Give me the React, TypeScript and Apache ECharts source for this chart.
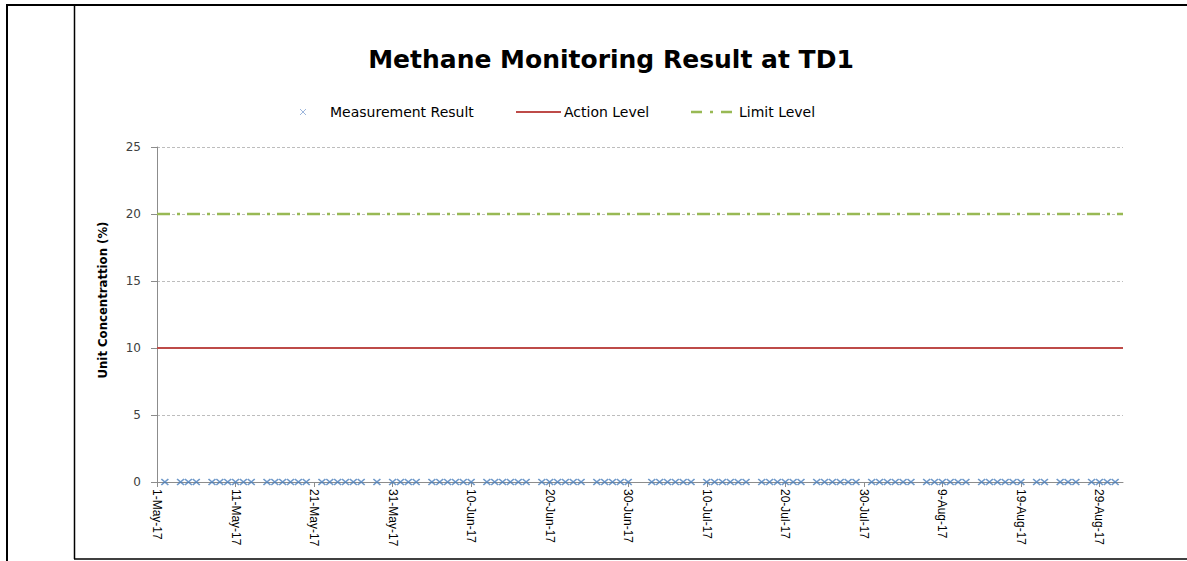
import React, { useEffect, useRef } from "react";
import * as echarts from "echarts";

const chartTitle = "Methane Monitoring Result at TD1";
const yAxisName = "Unit Concentrattion (%)";
const seriesNames = ["Measurement Result", "Action Level", "Limit Level"];

const measurementDates = [
  "2017-05-02", "2017-05-04", "2017-05-05", "2017-05-06",
  "2017-05-08", "2017-05-09", "2017-05-10", "2017-05-11", "2017-05-12", "2017-05-13",
  "2017-05-15", "2017-05-16", "2017-05-17", "2017-05-18", "2017-05-19", "2017-05-20",
  "2017-05-22", "2017-05-23", "2017-05-24", "2017-05-25", "2017-05-26", "2017-05-27",
  "2017-05-29", "2017-05-31", "2017-06-01", "2017-06-02", "2017-06-03",
  "2017-06-05", "2017-06-06", "2017-06-07", "2017-06-08", "2017-06-09", "2017-06-10",
  "2017-06-12", "2017-06-13", "2017-06-14", "2017-06-15", "2017-06-16", "2017-06-17",
  "2017-06-19", "2017-06-20", "2017-06-21", "2017-06-22", "2017-06-23", "2017-06-24",
  "2017-06-26", "2017-06-27", "2017-06-28", "2017-06-29", "2017-06-30",
  "2017-07-03", "2017-07-04", "2017-07-05", "2017-07-06", "2017-07-07", "2017-07-08",
  "2017-07-10", "2017-07-11", "2017-07-12", "2017-07-13", "2017-07-14", "2017-07-15",
  "2017-07-17", "2017-07-18", "2017-07-19", "2017-07-20", "2017-07-21", "2017-07-22",
  "2017-07-24", "2017-07-25", "2017-07-26", "2017-07-27", "2017-07-28", "2017-07-29",
  "2017-07-31", "2017-08-01", "2017-08-02", "2017-08-03", "2017-08-04", "2017-08-05",
  "2017-08-07", "2017-08-08", "2017-08-09", "2017-08-10", "2017-08-11", "2017-08-12",
  "2017-08-14", "2017-08-15", "2017-08-16", "2017-08-17", "2017-08-18", "2017-08-19",
  "2017-08-21", "2017-08-22", "2017-08-24", "2017-08-25", "2017-08-26",
  "2017-08-28", "2017-08-29", "2017-08-30", "2017-08-31",
];
const measurementValues = [
  0, 0, 0, 0,
  0, 0, 0, 0, 0, 0,
  0, 0, 0, 0, 0, 0,
  0, 0, 0, 0, 0, 0,
  0, 0, 0, 0, 0,
  0, 0, 0, 0, 0, 0,
  0, 0, 0, 0, 0, 0,
  0, 0, 0, 0, 0, 0,
  0, 0, 0, 0, 0,
  0, 0, 0, 0, 0, 0,
  0, 0, 0, 0, 0, 0,
  0, 0, 0, 0, 0, 0,
  0, 0, 0, 0, 0, 0,
  0, 0, 0, 0, 0, 0,
  0, 0, 0, 0, 0, 0,
  0, 0, 0, 0, 0, 0,
  0, 0, 0, 0, 0,
  0, 0, 0, 0,
];
const levelDates = ["2017-05-01", "2017-09-01"];
const actionLevel = [10, 10];
const limitLevel = [20, 20];

const axisStart = "2017-05-01";
const axisEnd = "2017-09-01";
const yMin = 0;
const yMax = 25;
const yStep = 5;
const xStepDays = 10;

const MONTHS = ["Jan", "Feb", "Mar", "Apr", "May", "Jun", "Jul", "Aug", "Sep", "Oct", "Nov", "Dec"];
const DAY = 86400000;
const toUTC = (s: string) => {
  const [y, m, d] = s.split("-").map(Number);
  return Date.UTC(y, m - 1, d);
};
const base = toUTC(axisStart);
const dayOf = (s: string) => Math.round((toUTC(s) - base) / DAY);
const fmtDay = (v: number) => {
  const dt = new Date(base + Math.round(v) * DAY);
  return `${dt.getUTCDate()}-${MONTHS[dt.getUTCMonth()]}-${String(dt.getUTCFullYear()).slice(2)}`;
};

const BLUE = "#4A7EBB";
const RED = "#BE4B48";
const GREEN = "#98B954";
const FONT = "'DejaVu Sans', sans-serif";

export default function App() {
  const ref = useRef<HTMLDivElement>(null);
  useEffect(() => {
    if (!ref.current) return;
    const chart = echarts.init(ref.current, undefined, { renderer: "svg" });
    const legendY = 112;
    chart.setOption({
      animation: false,
      backgroundColor: "#fff",
      title: {
        text: chartTitle,
        left: 606,
        top: 42,
        textAlign: "center",
        textStyle: { fontFamily: FONT, fontWeight: "bold", fontSize: 25, color: "#000" },
      },
      grid: { left: 157, right: 64, top: 147, bottom: 79 },
      xAxis: {
        type: "value",
        min: 0,
        max: dayOf(axisEnd),
        interval: xStepDays,
        axisLine: { show: true, onZero: false, lineStyle: { color: "#8C8C8C", width: 1 } },
        axisTick: { show: true, inside: false, length: 5, lineStyle: { color: "#8C8C8C" } },
        splitLine: { show: false },
        axisLabel: {
          rotate: -90,
          margin: 7,
          showMaxLabel: false,
          fontFamily: "'Liberation Sans', Arial, sans-serif",
          fontSize: 12,
          color: "#000",
          formatter: (v: number) => fmtDay(v),
        },
      },
      yAxis: {
        type: "value",
        min: yMin,
        max: yMax,
        interval: yStep,
        axisLine: { show: true, lineStyle: { color: "#8C8C8C", width: 1 } },
        axisTick: { show: true, length: 6, lineStyle: { color: "#8C8C8C" } },
        splitLine: { show: true, lineStyle: { color: "#BDBDBD", type: [3, 2], width: 1 } },
        axisLabel: { margin: 16, fontFamily: FONT, fontSize: 12, color: "#404040" },
      },
      series: [
        {
          name: seriesNames[1],
          type: "line",
          data: levelDates.map((d, i) => [dayOf(d), actionLevel[i]]),
          symbol: "none",
          lineStyle: { color: RED, width: 2 },
          z: 2,
        },
        {
          name: seriesNames[2],
          type: "line",
          data: levelDates.map((d, i) => [dayOf(d), limitLevel[i]]),
          symbol: "none",
          lineStyle: { color: GREEN, width: 2.5, type: [13, 7, 3, 7] },
          z: 2,
        },
        {
          name: seriesNames[0],
          type: "scatter",
          data: measurementDates.map((d, i) => [dayOf(d), measurementValues[i]]),
          symbol: "path://M0 0L10 10M0 10L10 0",
          symbolSize: [7, 6],
          itemStyle: { color: "rgba(0,0,0,0)", borderColor: BLUE, borderWidth: 1.5 },
          z: 3,
        },
      ],
      graphic: [
        { type: "line", shape: { x1: 6, y1: 5, x2: 1187, y2: 5 }, style: { stroke: "#000", lineWidth: 2 } },
        { type: "line", shape: { x1: 7, y1: 5, x2: 7, y2: 561 }, style: { stroke: "#000", lineWidth: 2 } },
        { type: "line", shape: { x1: 74.5, y1: 5, x2: 74.5, y2: 559 }, style: { stroke: "#000", lineWidth: 1.5 } },
        { type: "line", shape: { x1: 74, y1: 559, x2: 1187, y2: 559 }, style: { stroke: "#000", lineWidth: 1.5 } },
        // y axis title
        {
          type: "text", x: 102, y: 300, rotation: Math.PI / 2,
          style: {
            text: yAxisName,
            fontFamily: "'DejaVu Sans Condensed', 'DejaVu Sans', sans-serif",
            fontWeight: "bold", fontSize: 13, fill: "#000",
            align: "center", verticalAlign: "middle",
          },
        },
        // legend
        { type: "line", shape: { x1: 300, y1: legendY - 3, x2: 306, y2: legendY + 3 }, style: { stroke: "#9DB6DC", lineWidth: 1 } },
        { type: "line", shape: { x1: 300, y1: legendY + 3, x2: 306, y2: legendY - 3 }, style: { stroke: "#9DB6DC", lineWidth: 1 } },
        {
          type: "text", x: 330, y: legendY,
          style: { text: seriesNames[0], fontFamily: FONT, fontSize: 14, fill: "#000", verticalAlign: "middle" },
        },
        { type: "line", shape: { x1: 516, y1: legendY, x2: 561, y2: legendY }, style: { stroke: RED, lineWidth: 2 } },
        {
          type: "text", x: 564, y: legendY,
          style: { text: seriesNames[1], fontFamily: FONT, fontSize: 14, fill: "#000", verticalAlign: "middle" },
        },
        { type: "line", shape: { x1: 691, y1: legendY, x2: 737, y2: legendY }, style: { stroke: GREEN, lineWidth: 2.5, lineDash: [11, 8, 3, 8] } },
        {
          type: "text", x: 739, y: legendY,
          style: { text: seriesNames[2], fontFamily: FONT, fontSize: 14, fill: "#000", verticalAlign: "middle" },
        },
      ],
    });
    return () => chart.dispose();
  }, []);
  return (
    <div
      ref={ref}
      style={{ position: "fixed", left: 0, top: 0, width: 1187, height: 561, background: "#fff" }}
    />
  );
}
